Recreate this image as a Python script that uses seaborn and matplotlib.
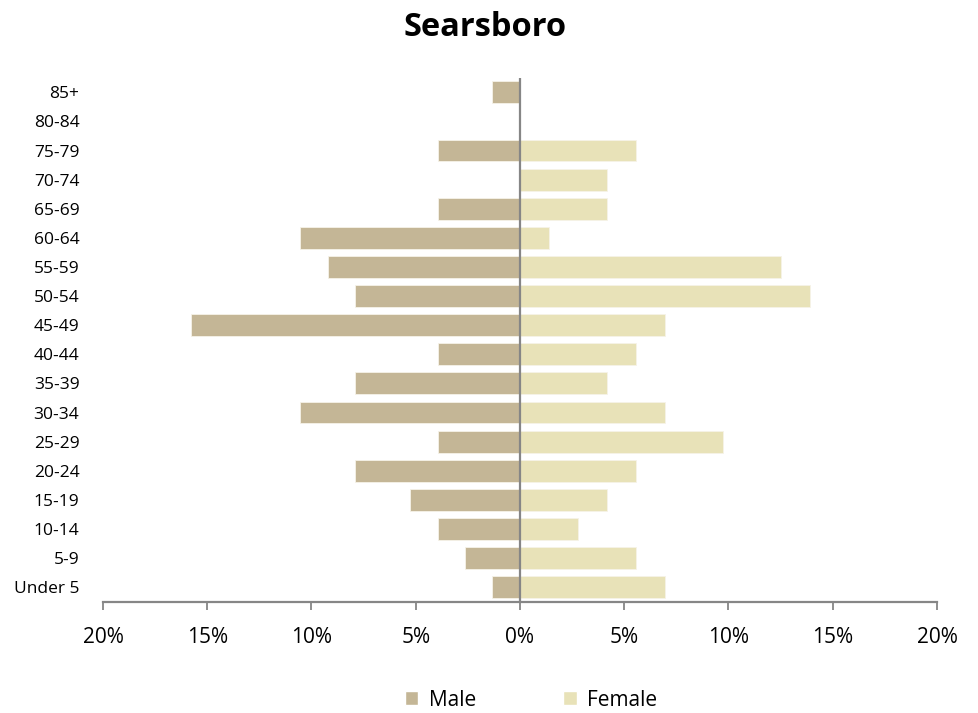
import pandas as pd
import seaborn as sns
import matplotlib.pyplot as plt
from matplotlib.ticker import FuncFormatter, MultipleLocator
from matplotlib.patches import Patch

# data (percent of population), top row first
age_groups = ["85+", "80-84", "75-79", "70-74", "65-69", "60-64", "55-59", "50-54", "45-49",
              "40-44", "35-39", "30-34", "25-29", "20-24", "15-19", "10-14", "5-9", "Under 5"]
male_pct = [1.32, 0.0, 3.95, 0.0, 3.95, 10.53, 9.21, 7.89, 15.79,
            3.95, 7.89, 10.53, 3.95, 7.89, 5.26, 3.95, 2.63, 1.32]
female_pct = [0.0, 0.0, 5.56, 4.17, 4.17, 1.39, 12.50, 13.89, 6.94,
              5.56, 4.17, 6.94, 9.72, 5.56, 4.17, 2.78, 5.56, 6.94]

male_color = "#C4B696"
female_color = "#E8E2B8"
axis_color = "#868686"

df = pd.concat([
    pd.DataFrame({"age": age_groups, "pct": [-v for v in male_pct], "sex": "Male"}),
    pd.DataFrame({"age": age_groups, "pct": female_pct, "sex": "Female"}),
])

sns.set_style("white")
plt.rcParams["font.family"] = ["Open Sans", "DejaVu Sans"]
plt.rcParams["text.color"] = "#000000"

fig = plt.figure(figsize=(9.79, 7.13), dpi=100)
ax = fig.add_axes([0.1052, 0.156, 0.8519, 0.735])

sns.barplot(data=df, y="age", x="pct", hue="sex", order=age_groups, orient="h",
            dodge=False, width=0.75, palette=[male_color, female_color], saturation=1,
            edgecolor="#F6F3E8", linewidth=0.6, legend=False, ax=ax)

ax.set_xlim(-20, 20)
ax.set_ylim(17.5, -0.5)
ax.axvline(0, color=axis_color, lw=1.6, zorder=5)
ax.xaxis.set_major_locator(MultipleLocator(5))
ax.xaxis.set_major_formatter(FuncFormatter(lambda v, p: f"{abs(v):.0f}%"))
ax.set_xlabel("")
ax.set_ylabel("")

for s in ["top", "right", "left"]:
    ax.spines[s].set_visible(False)
ax.spines["bottom"].set_color(axis_color)
ax.spines["bottom"].set_linewidth(1.6)
ax.tick_params(axis="x", direction="out", length=6, width=1.3, color=axis_color,
               labelsize=15, pad=12, labelcolor="#000000", bottom=True)
ax.tick_params(axis="y", length=0, labelsize=12.5, pad=17, labelcolor="#000000")

fig.text(0.495, 1 - 27 / 713, "Searsboro", ha="center", va="center",
         fontsize=23.5, fontweight="bold", color="#000000")

handles = [Patch(facecolor=male_color, label="Male"),
           Patch(facecolor=female_color, label="Female")]
fig.legend(handles=handles, loc="center", ncol=2, frameon=False,
           bbox_to_anchor=(531 / 979, 1 - 700 / 713), fontsize=15, labelcolor="#000000",
           handlelength=0.65, handleheight=0.65, handletextpad=0.5, columnspacing=4.2)

plt.savefig("out.png", dpi=100)
